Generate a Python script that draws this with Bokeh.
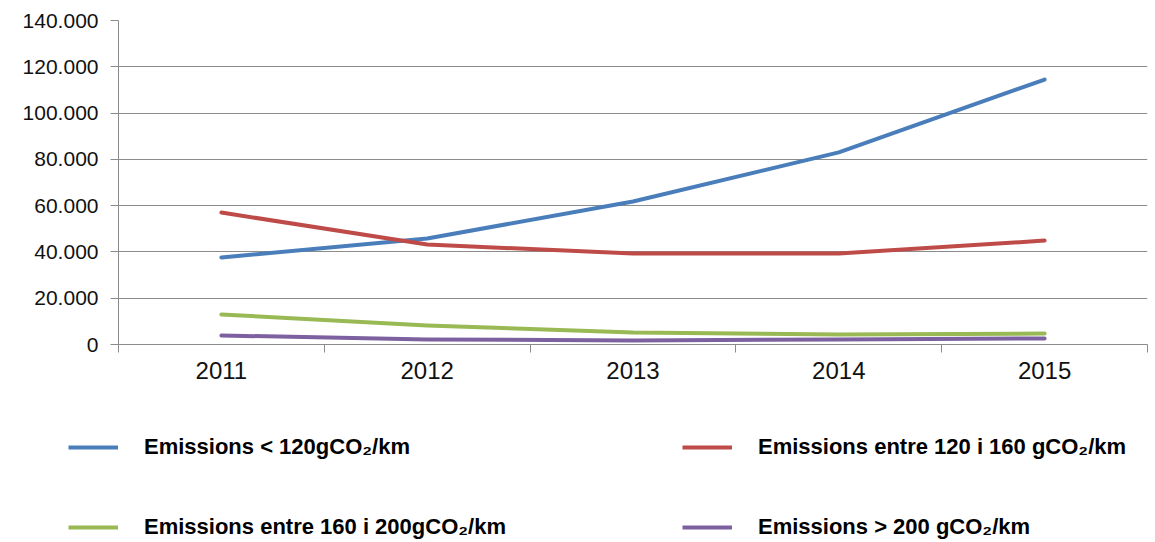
from bokeh.plotting import figure
from bokeh.models import Range1d, FixedTicker, CustomJSTickFormatter, Legend, LegendItem
from bokeh.embed import file_html
from bokeh.resources import INLINE

# ---- data ----
years = ["2011", "2012", "2013", "2014", "2015"]
below_120 = [37600, 45800, 61800, 83000, 114500]
between_120_160 = [57000, 43200, 39300, 39300, 44900]
between_160_200 = [13000, 8200, 5200, 4300, 4750]
above_200 = [3900, 2200, 1700, 2200, 2600]
y_ticks = [0, 20000, 40000, 60000, 80000, 100000, 120000, 140000]
series_labels = [
    "Emissions < 120gCO\u2082/km",
    "Emissions entre 120 i 160 gCO\u2082/km",
    "Emissions entre 160 i 200gCO\u2082/km",
    "Emissions > 200 gCO\u2082/km",
]
series_colors = ["#4a7ebb", "#be4b48", "#98b954", "#7d60a0"]
series_values = [below_120, between_120_160, between_160_200, above_200]

FONT = "Liberation Sans"
GRID = "#8c8c8c"

x = [i + 0.5 for i in range(len(years))]

p = figure(width=1148, height=400, x_range=Range1d(0, len(years)),
           y_range=Range1d(0, 140000), toolbar_location=None,
           output_backend="svg", min_border_left=118, min_border_right=1,
           min_border_top=20, min_border_bottom=56)
p.outline_line_color = None
p.xgrid.grid_line_color = None
p.ygrid.grid_line_color = GRID
p.ygrid.grid_line_width = 1
p.ygrid.ticker = FixedTicker(ticks=y_ticks)

# y axis
p.yaxis.ticker = FixedTicker(ticks=y_ticks)
p.yaxis.formatter = CustomJSTickFormatter(
    code=r"return tick.toFixed(0).replace(/\B(?=(\d{3})+(?!\d))/g, '.');")
p.yaxis.axis_line_color = GRID
p.yaxis.major_tick_line_color = GRID
p.yaxis.major_tick_out = 8
p.yaxis.major_tick_in = 0
p.yaxis.minor_tick_line_color = None
p.yaxis.major_label_standoff = 12
p.yaxis.major_label_text_font = FONT
p.yaxis.major_label_text_font_size = "21px"
p.yaxis.major_label_text_color = "#111111"

# x axis: labels at category centres, ticks at boundaries
p.xaxis.ticker = FixedTicker(ticks=x, minor_ticks=list(range(len(years) + 1)))
p.xaxis.formatter = CustomJSTickFormatter(args=dict(labels=years),
                                          code="return labels[Math.floor(tick)] || '';")
p.xaxis.axis_line_color = GRID
p.xaxis.major_tick_line_color = None
p.xaxis.major_tick_out = 0
p.xaxis.major_tick_in = 0
p.xaxis.minor_tick_line_color = GRID
p.xaxis.minor_tick_out = 8
p.xaxis.minor_tick_in = 0
p.xaxis.major_label_standoff = 9
p.xaxis.major_label_text_font = FONT
p.xaxis.major_label_text_font_size = "24px"
p.xaxis.major_label_text_color = "#111111"

for vals, col in zip(series_values, series_colors):
    p.line(x=x, y=vals, line_color=col, line_width=4, line_cap="round", line_join="round")

# ---- legend panel (separate root so its frame spans the full width) ----
p2 = figure(width=1148, height=142, x_range=Range1d(0, 1), y_range=Range1d(0, 1),
            toolbar_location=None, output_backend="svg", min_border=0,
            min_border_left=0, min_border_right=0, min_border_top=0, min_border_bottom=0,
            x_axis_location=None, y_axis_location=None)
p2.outline_line_color = None
p2.grid.visible = False

# off-screen proxies so the legend glyphs draw with each series' style
dummies = [p2.line(x=[5, 6], y=[5, 6], line_color=c, line_width=4) for c in series_colors]

def make_legend(idx, loc):
    return Legend(items=[LegendItem(label=series_labels[i], renderers=[dummies[i]]) for i in idx],
                  location=loc, orientation="horizontal", padding=0, margin=0, spacing=0,
                  glyph_width=50, glyph_height=22, label_height=22, label_width=538,
                  label_standoff=26, border_line_color=None, background_fill_alpha=0,
                  label_text_font=FONT, label_text_font_style="bold",
                  label_text_font_size="22px", label_text_color="#000000")

p2.add_layout(make_legend([0, 1], (68, 82)), "center")
p2.add_layout(make_legend([2, 3], (68, 2)), "center")

open("out.html", "w").write(file_html([p, p2], INLINE))
